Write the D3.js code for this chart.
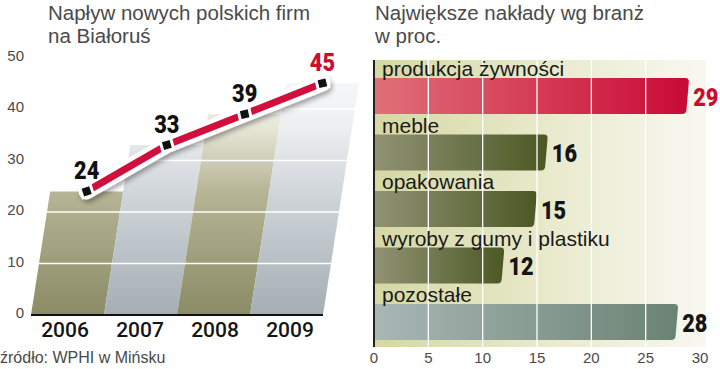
<!DOCTYPE html>
<html><head><meta charset="utf-8">
<script src="https://cdn.jsdelivr.net/npm/d3@7"></script>
<style>body{margin:0;background:#fff}svg{display:block}</style>
</head><body>
<script>
// ---- data ----
const years = ["2006", "2007", "2008", "2009"];
const firms = [24, 33, 39, 45];
const yTicks = [0, 10, 20, 30, 40, 50];
const sectors = ["produkcja żywności", "meble", "opakowania", "wyroby z gumy i plastiku", "pozostałe"];
const shares = [29, 16, 15, 12, 28];
const xTicks = [0, 5, 10, 15, 20, 25, 30];
const leftTitle = ["Napływ nowych polskich firm", "na Białoruś"];
const rightTitle = ["Największe nakłady wg branż", "w proc."];
const source = "źródło: WPHI w Mińsku";

const W = 720, H = 369;
const svg = d3.select("body").append("svg").attr("width", W).attr("height", H);
const defs = svg.append("defs");

function lin(id, x1, y1, x2, y2, stops, user) {
  const g = defs.append("linearGradient").attr("id", id)
    .attr("x1", x1).attr("y1", y1).attr("x2", x2).attr("y2", y2);
  if (user) g.attr("gradientUnits", "userSpaceOnUse");
  stops.forEach(s => g.append("stop").attr("offset", s[0]).attr("stop-color", s[1]));
}
lin("gKhaki", 0, 315, 0, 60, [[0, "#8b8c66"], [0.48, "#b5b495"], [0.74, "#e8e8da"], [1, "#fafaf6"]], true);
lin("gGray", 0, 315, 0, 60, [[0, "#a4aeb4"], [0.48, "#d0d6da"], [0.74, "#edeff1"], [1, "#fbfbfc"]], true);
lin("gRed", "0%", 0, "100%", 0, [[0, "#e07078"], [1, "#c90a36"]]);
lin("gOlive", "0%", 0, "100%", 0, [[0, "#919374"], [1, "#4c5824"]]);
lin("gTeal", "0%", 0, "100%", 0, [[0, "#a9b7b5"], [1, "#6a8373"]]);
lin("gPanel", "0%", 0, "100%", 0, [[0, "#d5d8a3"], [0.6, "#ebecd2"], [1, "#f8f8f2"]]);

const f = defs.append("filter").attr("id", "shadow").attr("x", "-20%").attr("y", "-50%").attr("width", "140%").attr("height", "200%");
f.append("feDropShadow").attr("dx", 2).attr("dy", 3).attr("stdDeviation", 2.5)
  .attr("flood-color", "#000").attr("flood-opacity", 0.35);

const numFont = "Roboto, DejaVu Sans, sans-serif";
const NARROW = 0.82;

// ---- left chart ----
const y = d3.scaleLinear().domain([0, 50]).range([315, 57.5]);
const xb = d3.scaleBand().domain(years).range([31, 323]);
const K = 0.155; // skew of the columns
const colPts = (v, yr) => {
  const x0 = xb(yr), x1 = x0 + xb.bandwidth(), h = y(0) - y(v);
  return [[x0, y(0)], [x1, y(0)], [x1 + K * h, y(v)], [x0 + K * h, y(v)]];
};
const cp = defs.append("clipPath").attr("id", "colClip");
years.forEach((yr, i) => cp.append("path").attr("d", d3.line()(colPts(firms[i], yr)) + "Z"));

svg.append("g").selectAll("path").data(years).join("path")
  .attr("d", (yr, i) => d3.line()(colPts(firms[i], yr)) + "Z")
  .attr("fill", (d, i) => i % 2 === 0 ? "url(#gKhaki)" : "url(#gGray)");

svg.append("g").attr("clip-path", "url(#colClip)").selectAll("line").data(yTicks.slice(1, 5)).join("line")
  .attr("x1", 30).attr("x2", 360).attr("y1", d => y(d)).attr("y2", d => y(d))
  .attr("stroke", "#fff").attr("stroke-width", 1.5);

svg.append("line").attr("x1", 31).attr("x2", 323).attr("y1", y(0)).attr("y2", y(0))
  .attr("stroke", "#111").attr("stroke-width", 2.2);

svg.append("g").selectAll("text").data(yTicks).join("text")
  .attr("x", 24).attr("y", d => y(d) + 3).attr("text-anchor", "end")
  .attr("font-family", "Liberation Sans, Arial, sans-serif").attr("font-size", 15).attr("fill", "#4a4a4a")
  .text(d => d);

const yearX = d3.scalePoint().domain(years).range([65, 290]);
svg.append("g").selectAll("text").data(years).join("text")
  .attr("x", d => yearX(d)).attr("y", 337).attr("text-anchor", "middle")
  .attr("font-family", "Roboto, Liberation Sans, sans-serif").attr("font-weight", 500)
  .attr("font-size", 21).attr("fill", "#151515").text(d => d);

const pts = years.map((yr, i) => {
  const h = y(0) - y(firms[i]);
  return [xb(yr) + xb.bandwidth() / 2 + K * h, y(firms[i])];
});
const lineGen = d3.line();
svg.append("path").attr("d", lineGen(pts)).attr("fill", "none").attr("stroke", "#fff")
  .attr("stroke-width", 16).attr("stroke-linecap", "round").attr("stroke-linejoin", "round")
  .attr("filter", "url(#shadow)");
svg.append("path").attr("d", lineGen(pts)).attr("fill", "none").attr("stroke", "#d10e3c")
  .attr("stroke-width", 7).attr("stroke-linejoin", "round");

const ang = pts.map((p, i) => {
  const a = i > 0 ? pts[i - 1] : p, b = i < pts.length - 1 ? pts[i + 1] : p;
  return Math.atan2(b[1] - a[1], b[0] - a[0]) * 180 / Math.PI * 0.6;
});
const mk = svg.append("g").selectAll("g").data(pts).join("g")
  .attr("transform", (p, i) => `translate(${p[0]},${p[1]}) rotate(${ang[i]})`);
mk.append("rect").attr("x", -7).attr("y", -6.5).attr("width", 14).attr("height", 13).attr("fill", "#fff");
mk.append("rect").attr("x", -4).attr("y", -4).attr("width", 8).attr("height", 8).attr("fill", "#111");

svg.append("g").selectAll("text").data(firms).join("text")
  .attr("transform", (d, i) => `translate(${pts[i][0]},${pts[i][1] - 12}) scale(${NARROW},1)`)
  .attr("text-anchor", "middle")
  .attr("font-family", numFont).attr("font-weight", 900)
  .attr("font-size", 26.5).attr("fill", (d, i) => i === firms.length - 1 ? "#c8102e" : "#111").text(d => d);

// titles
const titleFont = "Liberation Sans, Arial, sans-serif";
svg.append("g").selectAll("text").data(leftTitle).join("text")
  .attr("x", 48).attr("y", (d, i) => 20 + i * 23).attr("font-family", titleFont)
  .attr("font-size", 20.5).attr("fill", "#4a4a4a").text(d => d);
svg.append("g").selectAll("text").data(rightTitle).join("text")
  .attr("x", 375).attr("y", (d, i) => 20 + i * 23).attr("font-family", titleFont)
  .attr("font-size", 20.5).attr("fill", "#4a4a4a").text(d => d);
svg.append("text").attr("x", 0).attr("y", 363).attr("font-family", titleFont)
  .attr("font-size", 16).attr("fill", "#4a4a4a").text(source);

// ---- right chart ----
const x = d3.scaleLinear().domain([0, 30]).range([374, 700]);
const yb = d3.scaleBand().domain(sectors).range([59.5, 342]);
svg.append("rect").attr("x", x(0)).attr("y", 60).attr("width", 332).attr("height", 287).attr("fill", "url(#gPanel)");

const barFill = ["url(#gRed)", "url(#gOlive)", "url(#gOlive)", "url(#gOlive)", "url(#gTeal)"];
function barPath(x0, x1, y0, h) {
  const p = d3.path(), s = 3, r = 4;
  p.moveTo(x0, y0);
  p.lineTo(x1 - r, y0);
  p.quadraticCurveTo(x1, y0, x1 - 0.3, y0 + r);
  p.lineTo(x1 - s + 0.3, y0 + h - r);
  p.quadraticCurveTo(x1 - s, y0 + h, x1 - s - r, y0 + h);
  p.lineTo(x0, y0 + h);
  p.closePath();
  return p.toString();
}
svg.append("g").selectAll("path").data(sectors).join("path")
  .attr("d", (d, i) => barPath(x(0), x(shares[i]), yb(d) + 18.5, 36))
  .attr("fill", (d, i) => barFill[i]);

svg.append("g").selectAll("line").data(xTicks.slice(1, 6)).join("line")
  .attr("x1", d => x(d)).attr("x2", d => x(d)).attr("y1", 60).attr("y2", 347)
  .attr("stroke", "#fff").attr("stroke-width", 1.3);

svg.append("line").attr("x1", x(0)).attr("x2", x(0)).attr("y1", 60).attr("y2", 347)
  .attr("stroke", "#222").attr("stroke-width", 2);

svg.append("g").selectAll("text").data(sectors).join("text")
  .attr("x", 382).attr("y", d => yb(d) + 16.5)
  .attr("font-family", "Liberation Sans, Arial, sans-serif").attr("font-size", 21).attr("fill", "#1a1a1a")
  .text(d => d);

svg.append("g").selectAll("text").data(shares).join("text")
  .attr("transform", (d, i) => `translate(${x(d) + 4},${yb(sectors[i]) + 18.5 + 27.5}) scale(${NARROW},1)`)
  .attr("font-family", numFont).attr("font-weight", 900)
  .attr("font-size", 26.5).attr("fill", (d, i) => i === 0 ? "#c8102e" : "#151515").text(d => d);

svg.append("g").selectAll("text").data(xTicks).join("text")
  .attr("x", d => x(d)).attr("y", 363).attr("text-anchor", "middle")
  .attr("font-family", "Liberation Sans, Arial, sans-serif").attr("font-size", 15).attr("fill", "#4a4a4a")
  .text(d => d);
</script>
</body></html>
